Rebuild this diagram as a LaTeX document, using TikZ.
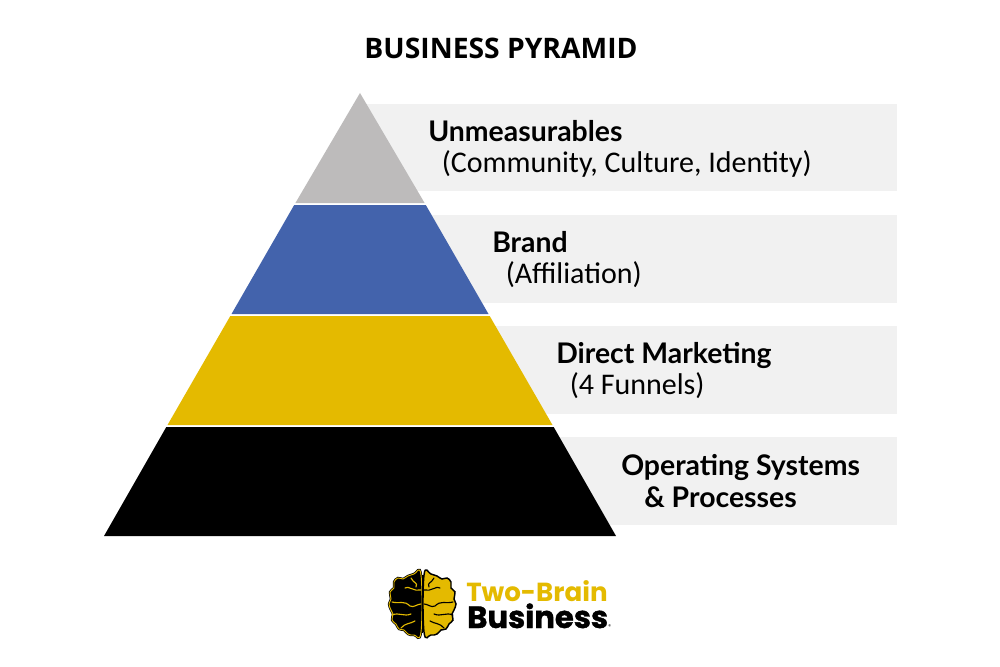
\documentclass[tikz,border=0pt]{standalone}
\usepackage{fontspec}
\setmainfont{Lato}
\newfontfamily\titlef{Open Sans}
\newfontfamily\subf{Carlito}
\newfontfamily\logof[FakeBold=1.2]{Poppins}
\newfontfamily\logotwo{Poppins}
\definecolor{pgray}{HTML}{BDBBBB}
\definecolor{pblue}{HTML}{4363AC}
\definecolor{pgold}{HTML}{E4BA00}
\definecolor{band}{HTML}{F1F1F1}
\tikzset{
  layer/.style={fill=#1,draw=none},
  bandbox/.style={fill=band,draw=none},
  head/.style={anchor=base west,inner sep=0pt,font=\fontsize{21.3}{24}\selectfont\bfseries},
  sub/.style={anchor=base west,inner sep=0pt,font=\subf\fontsize{22.5}{24}\selectfont},
  brainline/.style={line width=0.85pt,line cap=round,line join=round},
}
\newcommand{\lobe}{plot[smooth cycle,tension=0.7] coordinates {
 (421,575)(414,574)(408,576)(403,579)(398,578)(394,582)(394,588)(390,592)(391,599)(389,604)(391,610)(393,614)(392,620)(396,624)(399,629)(404,630)(408,634)(414,635)(421,632)}}
\newcommand{\folds}{
  (421,590) .. controls (414,592) and (408,585) .. (405,588)
  (392,602) .. controls (400,604) and (404,600) .. (410,606) .. controls (414,608) and (417,604) .. (421,604)
  (392,615) .. controls (399,612) and (404,617) .. (411,614)
  (401,628) .. controls (405,623) and (410,624) .. (415,621)
  (411,578) .. controls (414,584) and (418,582) .. (416,587)
}
\begin{document}
\begin{tikzpicture}[x=0.75pt,y=-0.75pt]
\useasboundingbox (0,0) rectangle (1000,667);
\fill[white] (0,0) rectangle (1000,667);
\node[anchor=base,inner sep=0pt,font=\titlef\fontsize{21.2}{24}\selectfont\bfseries] (title) at (501,58.5) {BUSINESS PYRAMID};
% bands
\fill[bandbox] (360,104) rectangle (897,191);
\fill[bandbox] (360,215) rectangle (897,303);
\fill[bandbox] (360,326) rectangle (897,414);
\fill[bandbox] (360,437) rectangle (897,525);
% pyramid
\path[layer=pgray] (360,93) -- (424.6,203) -- (295.4,203) -- cycle;
\path[layer=pblue] (425.8,205) -- (488.5,314) -- (231.5,314) -- (294.2,205) -- cycle;
\path[layer=pgold] (489.7,316) -- (552.5,425) -- (167.5,425) -- (230.3,316) -- cycle;
\path[layer=black] (553.7,427) -- (616,536) -- (104,536) -- (166.3,427) -- cycle;
% labels
\node[head] (h1) at (428,141.5) {Unmeasurables};
\node[sub] (s1) at (441.5,172.5) {(Community, Culture, Identity)};
\node[head] (h2) at (492,252.5) {Brand};
\node[sub] (s2) at (505.5,283.5) {(Affiliation)};
\node[head] (h3) at (556,363.5) {Direct Marketing};
\node[sub] (s3) at (569.5,394.5) {(4 Funnels)};
\node[head] (h4) at (621,475.5) {Operating Systems};
\node[head] (s4) at (644,507.5) {\& Processes};
% logo brain
\filldraw[fill=black,draw=black,line width=1.8pt] \lobe;
\draw[pgold,line width=0.7pt] \lobe;
\draw[pgold,brainline] \folds;
\begin{scope}[shift={(845,0)},x=-0.75pt]
\filldraw[fill=pgold,draw=black,line width=1.1pt] \lobe;
\draw[black,brainline] \folds;
\end{scope}
\draw[black,line width=1pt] (422.5,575) -- (422.5,633);
% logo text
\node[anchor=base west,inner sep=0pt,text=pgold,font=\logotwo\fontsize{19.6}{20}\selectfont\bfseries] (two) at (466,601) {Two-Brain};
\node[anchor=base west,inner sep=0pt,text=black,font=\logof\fontsize{23}{24}\selectfont\bfseries] (biz) at (467,628) {Business};
\node[anchor=base west,inner sep=0pt,font=\logotwo\fontsize{4}{4}\selectfont] (reg) at (608,628) {®};
\end{tikzpicture}
\end{document}
